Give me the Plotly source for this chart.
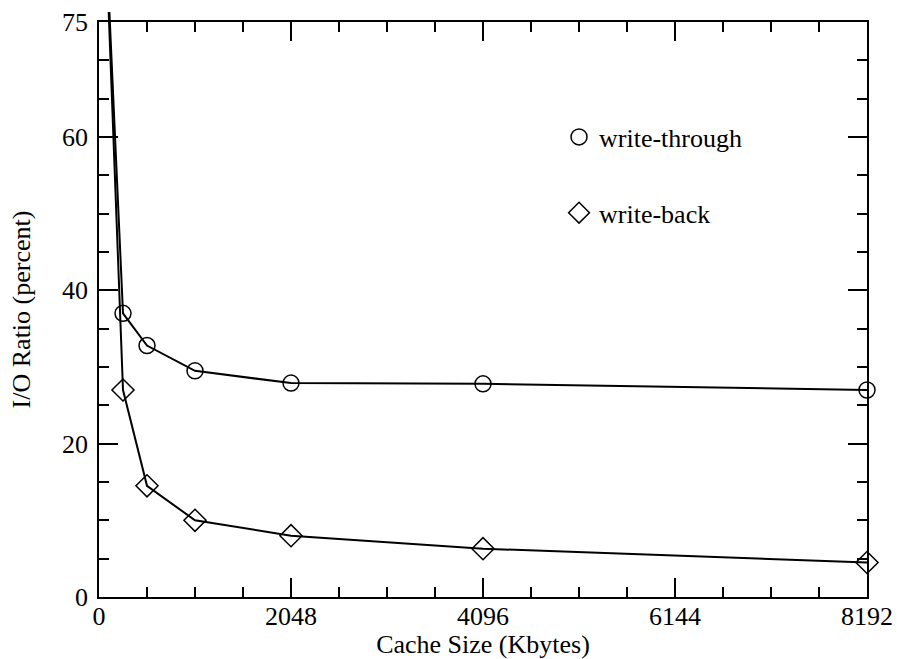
import plotly.graph_objects as go

# Data
cache_kb = [64, 256, 512, 1024, 2048, 4096, 8192]
write_through = [89.0, 37.0, 32.8, 29.5, 27.9, 27.8, 27.0]
write_back = [89.0, 27.0, 14.5, 10.0, 8.0, 6.3, 4.5]

x_ticks = [0, 2048, 4096, 6144, 8192]
y_ticks = [0, 20, 40, 60, 75]

FONT = "Liberation Serif"
Y_MAX = 75
FRAME_FRAC = 575 / 585  # main frame height / full plotting height

fig = go.Figure()

series = [
    ("write-through", write_through, "circle-open", 16),
    ("write-back", write_back, "diamond-open", 17),
]
# curves on a hidden axis pair whose clip area extends slightly above the frame
for name, vals, sym, sz in series:
    fig.add_trace(go.Scatter(
        x=cache_kb, y=vals, mode="lines", xaxis="x2", yaxis="y2",
        line=dict(color="black", width=2),
        showlegend=False, hoverinfo="skip"))
for name, vals, sym, sz in series:
    fig.add_trace(go.Scatter(
        x=cache_kb, y=vals, mode="markers", name=name,
        legendgroup=name,
        marker=dict(symbol=sym, size=sz, color="black",
                    line=dict(color="black", width=1.5)),
        cliponaxis=False))

axis_common = dict(
    showline=True, linecolor="black", linewidth=1.5, mirror="ticks",
    ticks="inside", ticklen=19, tickwidth=1.5, tickcolor="black",
    showgrid=False, zeroline=False, automargin=False,
    tickfont=dict(family=FONT, size=26, color="black"),
)

fig.update_layout(
    xaxis=dict(
        range=[0, 8192], tickmode="array", tickvals=x_ticks,
        ticktext=[str(v) for v in x_ticks],
        ticklabelstandoff=-5,
        minor=dict(dtick=512, tick0=0, ticks="inside", ticklen=10,
                   tickwidth=1.5, tickcolor="black", showgrid=False),
        title=dict(text="Cache Size (Kbytes)", standoff=2,
                   font=dict(family=FONT, size=26, color="black")),
        **axis_common),
    yaxis=dict(
        range=[0, Y_MAX], domain=[0, FRAME_FRAC], tickmode="array",
        tickvals=y_ticks, ticktext=[str(v) for v in y_ticks],
        ticklabelstandoff=4,
        minor=dict(dtick=5, tick0=0, ticks="inside", ticklen=10,
                   tickwidth=1.5, tickcolor="black", showgrid=False),
        title=dict(text="I/O Ratio (percent)", standoff=24,
                   font=dict(family=FONT, size=26, color="black")),
        **axis_common),
    xaxis2=dict(range=[0, 8192], anchor="y2", visible=False,
                showgrid=False, zeroline=False),
    yaxis2=dict(range=[0, Y_MAX / FRAME_FRAC], domain=[0, 1], anchor="x2",
                visible=False, showgrid=False, zeroline=False),
)

fig.update_layout(
    width=897, height=659,
    margin=dict(l=99, r=30, t=12, b=62, autoexpand=False),
    paper_bgcolor="white", plot_bgcolor="rgba(0,0,0,0)",
    showlegend=True,
    legend=dict(x=0.599, y=0.7214, xanchor="left", yanchor="middle",
                bgcolor="rgba(0,0,0,0)", borderwidth=0,
                traceorder="grouped", tracegroupgap=39,
                font=dict(family=FONT, size=26, color="black"),
                itemwidth=30),
    font=dict(family=FONT, size=26, color="black"),
)

fig.write_html("out.html")
